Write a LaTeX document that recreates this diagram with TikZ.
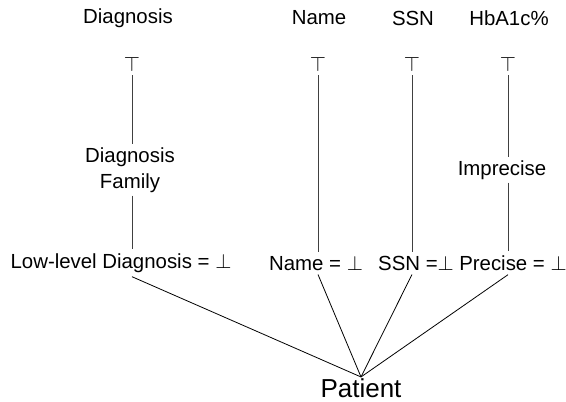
\documentclass[tikz,border=0pt]{standalone}
\usepackage{fontspec}
\setmainfont{Liberation Sans}
\begin{document}
\begin{tikzpicture}[x=1pt,y=-1pt,
  lbl/.style={inner sep=1pt, font=\fontsize{20.4}{26}\selectfont},
  sym/.style={inner sep=4pt, font=\fontsize{21}{26}\selectfont},
  vline/.style={draw=black!75, line width=0.8pt},
  dline/.style={draw=black, line width=0.8pt}]
\useasboundingbox (0,0) rectangle (566,402);
% headers
\node[lbl] (hDiag) at (128,18) {Diagnosis};
\node[lbl] (hName) at (319,18) {Name};
\node[lbl] (hSSN) at (413,18) {SSN};
\node[lbl] (hHb) at (509,18) {HbA1c\%};
% tops
\node[sym] (tDiag) at (132,64) {$\top$};
\node[sym] (tName) at (318,64) {$\top$};
\node[sym] (tSSN) at (412,64) {$\top$};
\node[sym] (tHb) at (508,64) {$\top$};
% middle
\node[lbl, align=center, inner sep=3pt] (fam) at (130,170) {Diagnosis\\Family};
\node[lbl, inner sep=3pt] (impr) at (502,170) {Imprecise};
% bottoms
\node[lbl, inner sep=4pt] (bLow) at (121,263) {Low-level Diagnosis = $\bot$};
\node[lbl, inner sep=4pt] (bName) at (316,263) {Name = $\bot$};
\node[lbl, inner sep=4pt] (bSSN) at (416,263) {SSN =$\bot$};
\node[lbl, inner sep=4pt] (bPre) at (513,263) {Precise = $\bot$};
% root
\node[inner sep=1pt, anchor=base, font=\fontsize{26}{30}\selectfont] (pat) at (361,397) {Patient};
% vertical connectors
\draw[vline] (tDiag.south) -- (tDiag.south |- fam.north);
\draw[vline] (tDiag.south |- fam.south) -- (tDiag.south |- bLow.north);
\draw[vline] (tName.south) -- (tName.south |- bName.north);
\draw[vline] (tSSN.south) -- (tSSN.south |- bSSN.north);
\draw[vline] (tHb.south) -- (tHb.south |- impr.north);
\draw[vline] (tHb.south |- impr.south) -- (tHb.south |- bPre.north);
% diagonal connectors
\draw[dline] (tDiag.south |- bLow.south) -- (pat.north);
\draw[dline] (tName.south |- bName.south) -- (pat.north);
\draw[dline] (tSSN.south |- bSSN.south) -- (pat.north);
\draw[dline] (tHb.south |- bPre.south) -- (pat.north);
\end{tikzpicture}
\end{document}
